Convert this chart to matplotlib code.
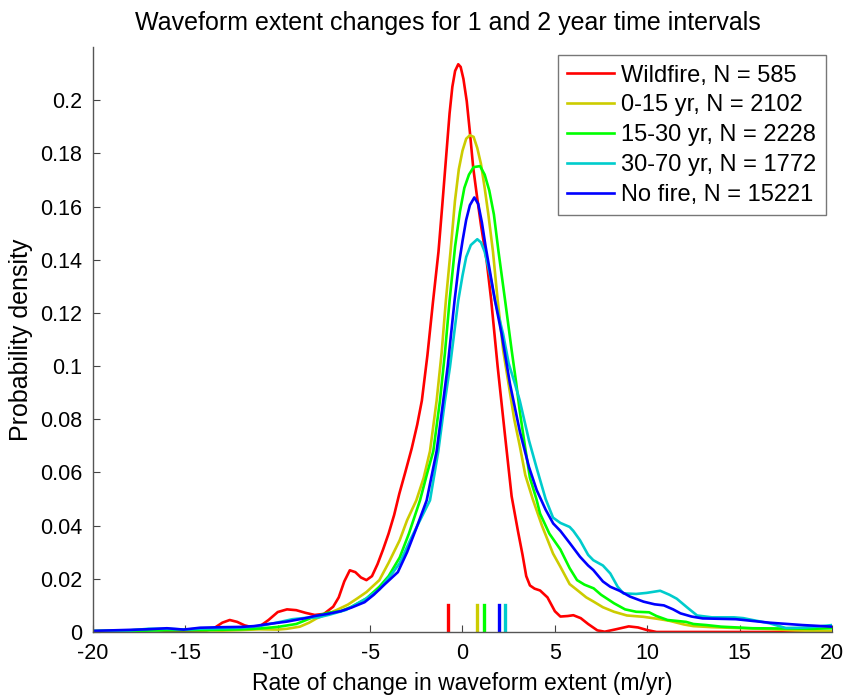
#Waveform extent change densities

import numpy as np
import matplotlib
matplotlib.use('Agg')
import matplotlib.pyplot as plt

#Density curves (x in m/yr, y in probability density).

wild_x = [-20, -18, -17, -16, -15, -14, -13.5, -13, -12.6, -12.2, -11.8, -11.4, -11, -10.5, -10, -9.5, -9,
          -8.5, -8, -7.5, -7, -6.7, -6.4, -6.1, -5.8, -5.5, -5.2, -4.9, -4.6, -4.3, -4.0, -3.7, -3.42, -3.1,
          -2.75, -2.45, -2.2, -1.9, -1.6, -1.3, -1.1, -0.86, -0.7, -0.55, -0.4, -0.23, -0.1, 0.05, 0.23, 0.4,
          0.58, 0.8, 1.0, 1.3, 1.55, 1.9, 2.3, 2.66, 3.0, 3.25, 3.45, 3.65, 3.9, 4.2, 4.6, 5.0, 5.3, 5.7, 6.0,
          6.4, 6.8, 7.3, 7.7, 8.3, 9.0, 9.5, 10.0, 10.5, 12, 14, 16, 18, 20]
wild_y = [0.0002, 0.0003, 0.001, 0.0004, 0.0002, 0.0002, 0.0012, 0.0035, 0.0045, 0.0038, 0.0025, 0.0018, 0.002,
          0.0045, 0.0075, 0.0085, 0.0082, 0.0072, 0.0064, 0.0068, 0.0095, 0.013, 0.019, 0.0232, 0.0225, 0.0205,
          0.0195, 0.021, 0.0255, 0.031, 0.037, 0.044, 0.052, 0.060, 0.069, 0.078, 0.087, 0.104, 0.124, 0.143,
          0.160, 0.181, 0.195, 0.205, 0.211, 0.2135, 0.2125, 0.208, 0.1996, 0.188, 0.1746, 0.163, 0.153, 0.140,
          0.125, 0.100, 0.074, 0.051, 0.038, 0.029, 0.021, 0.0175, 0.0163, 0.0156, 0.013, 0.0078, 0.0058,
          0.006, 0.0063, 0.0052, 0.003, 0.0006, 0.0001, 0.001, 0.0021, 0.0017, 0.0007, 0.0, 0, 0, 0, 0, 0]

y015_x = [-20, -18, -17, -16, -15, -14, -13, -12, -11, -10, -9.5, -8.8, -8.3, -7.9, -7.3, -6.8, -6.2, -5.7,
          -5.2, -4.5, -4.0, -3.4, -3.0, -2.5, -2.1, -1.76, -1.4, -1.13, -0.9, -0.65, -0.41, -0.2, 0.0, 0.2, 0.4,
          0.6, 0.8, 1.0, 1.2, 1.4, 1.65, 1.9, 2.2, 2.5, 2.8, 3.1, 3.4, 3.8, 4.3, 4.9, 5.3, 5.8, 6.2, 6.7, 7.1,
          7.6, 8.2, 8.9, 9.8, 10.5, 11.2, 12.0, 12.5, 13.5, 14.8, 16.6, 18, 19.4, 20]
y015_y = [0.0004, 0.0006, 0.0009, 0.001, 0.0008, 0.0006, 0.0005, 0.0007, 0.001, 0.0009, 0.0012, 0.002, 0.0035,
          0.0051, 0.0068, 0.0083, 0.0103, 0.0126, 0.015, 0.0195, 0.026, 0.0345, 0.042, 0.0495, 0.058, 0.068,
          0.087, 0.105, 0.1246, 0.143, 0.162, 0.174, 0.181, 0.1855, 0.1868, 0.1862, 0.182, 0.176, 0.167, 0.157,
          0.143, 0.125, 0.106, 0.093, 0.080, 0.070, 0.059, 0.050, 0.040, 0.0295, 0.0245, 0.018, 0.0158, 0.013,
          0.0114, 0.0093, 0.0076, 0.0062, 0.0057, 0.005, 0.0042, 0.0028, 0.0022, 0.0018, 0.0015, 0.0011, 0.0006,
          0.0003, 0.0003]

y1530_x = [-20, -18, -16, -14, -12, -11, -10, -9, -8, -7.3, -6.6, -6.0, -5.2, -4.5, -4.0, -3.4, -2.9, -2.3,
           -1.9, -1.58, -1.22, -0.95, -0.7, -0.4, -0.14, 0.1, 0.35, 0.6, 0.95, 1.2, 1.45, 1.7, 1.95, 2.3, 2.66,
           2.9, 3.1, 3.4, 3.65, 4.0, 4.2, 4.7, 5.3, 5.8, 6.2, 6.6, 7.1, 7.5, 8.2, 8.8, 9.4, 10.1, 10.5, 11.1,
           12.1, 12.5, 13.2, 14, 15.7, 17.5, 19, 20]
y1530_y = [0.0003, 0.0004, 0.0006, 0.0007, 0.001, 0.0013, 0.0019, 0.003, 0.0058, 0.0072, 0.0078, 0.0095,
           0.0126, 0.017, 0.021, 0.028, 0.037, 0.0495, 0.060, 0.068, 0.087, 0.105, 0.1246, 0.145, 0.158, 0.167,
           0.172, 0.1748, 0.1752, 0.172, 0.166, 0.157, 0.143, 0.125, 0.106, 0.094, 0.083, 0.069, 0.058, 0.050,
           0.0445, 0.037, 0.031, 0.024, 0.0195, 0.0178, 0.0164, 0.014, 0.0108, 0.0085, 0.0076, 0.0074, 0.006,
           0.0045, 0.0038, 0.003, 0.0026, 0.002, 0.0014, 0.0013, 0.0012, 0.0014]

y3070_x = [-20, -18, -17, -16, -15, -14, -13, -12, -11, -10, -9.2, -8.5, -7.8, -7.2, -6.3, -5.2, -4.5, -3.8,
           -3.4, -2.8, -2.3, -1.76, -1.31, -0.95, -0.68, -0.23, 0.0, 0.2, 0.45, 0.8, 1.0, 1.2, 1.5, 1.76, 2.2,
           2.5, 2.84, 3.1, 3.6, 4.0, 4.5, 4.9, 5.3, 5.8, 6.0, 6.36, 6.8, 7.08, 7.6, 8.0, 8.4, 8.71, 9.4, 9.97,
           10.7, 11.2, 11.6, 12.2, 12.7, 13.5, 14.7, 15.2, 15.7, 16.6, 17.5, 18.4, 19.2, 20]
y3070_y = [0.0004, 0.0006, 0.0012, 0.0012, 0.0009, 0.0013, 0.0014, 0.0016, 0.0022, 0.0036, 0.0048, 0.0053,
           0.0055, 0.0065, 0.0083, 0.0126, 0.016, 0.022, 0.0259, 0.035, 0.042, 0.0495, 0.068, 0.087, 0.0996,
           0.1246, 0.134, 0.141, 0.1455, 0.1477, 0.1465, 0.143, 0.134, 0.1246, 0.112, 0.101, 0.0933, 0.087,
           0.072, 0.062, 0.050, 0.043, 0.041, 0.0395, 0.038, 0.0345, 0.029, 0.027, 0.025, 0.022, 0.017, 0.0145,
           0.0143, 0.0147, 0.0155, 0.014, 0.0125, 0.009, 0.0062, 0.0055, 0.0055, 0.0052, 0.0045, 0.0033, 0.0015,
           0.0016, 0.002, 0.0026]

nofire_x = [-20, -19, -18, -17.1, -16, -15.1, -14.2, -13, -12, -11.3, -10.5, -9.5, -8.5, -8.0, -7.3, -6.6,
            -6.0, -5.3, -4.8, -4.2, -3.5, -3.0, -2.5, -1.94, -1.4, -1.04, -0.8, -0.43, -0.2, 0.0, 0.2, 0.4,
            0.64, 0.85, 1.05, 1.25, 1.45, 1.76, 2.12, 2.57, 3.11, 3.6, 4.02, 4.5, 4.91, 5.3, 5.82, 6.36, 6.8,
            7.08, 7.6, 8.0, 8.5, 9.07, 9.8, 10.4, 10.9, 11.4, 11.8, 12.4, 13.0, 14.8, 16.6, 18.4, 20]
nofire_y = [0.0004, 0.0006, 0.0008, 0.001, 0.0014, 0.0009, 0.0016, 0.0018, 0.0019, 0.0022, 0.003, 0.0039,
            0.0052, 0.006, 0.0068, 0.0078, 0.0092, 0.0112, 0.014, 0.018, 0.0225, 0.030, 0.039, 0.0495, 0.068,
            0.087, 0.100, 0.1246, 0.138, 0.147, 0.155, 0.1605, 0.1634, 0.161, 0.154, 0.145, 0.137, 0.1246,
            0.112, 0.0933, 0.0752, 0.062, 0.0533, 0.046, 0.0408, 0.038, 0.0333, 0.0283, 0.025, 0.0233, 0.019,
            0.017, 0.0155, 0.0133, 0.0114, 0.0104, 0.010, 0.0085, 0.007, 0.0058, 0.0051, 0.0048, 0.0035, 0.0026,
            0.002]

#Group means shown as short ticks on the x axis (same order as labels).
mean_vals = [-0.77, 0.80, 1.15, 2.32, 1.96]

labels = ['Wildfire, N = 585', '0-15 yr, N = 2102', '15-30 yr, N = 2228',
          '30-70 yr, N = 1772', 'No fire, N = 15221']
colors = ['#ff0000', '#cccc00', '#00ff00', '#00cccc', '#0000ff']

yticks = [0, 0.02, 0.04, 0.06, 0.08, 0.1, 0.12, 0.14, 0.16, 0.18, 0.2]
ytick_labels = ['0', '0.02', '0.04', '0.06', '0.08', '0.1', '0.12', '0.14', '0.16', '0.18', '0.2']
xticks = [-20, -15, -10, -5, 0, 5, 10, 15, 20]

plt.rcParams['font.family'] = ['Liberation Sans', 'DejaVu Sans']

fig = plt.figure(figsize=(8.48, 6.97), dpi=100)
ax = fig.add_axes([0.1097, 0.0933, 0.8714, 0.8393])

curves = [(wild_x, wild_y), (y015_x, y015_y), (y1530_x, y1530_y), (y3070_x, y3070_y), (nofire_x, nofire_y)]
for (cx, cy), c, lab in zip(curves, colors, labels):
    ax.plot(cx, cy, color=c, linewidth=1.9, label=lab, solid_joinstyle='round')

#Mean markers
for m, c in zip(mean_vals, colors):
    ax.plot([m, m], [0, 0.01], color=c, linewidth=2.4)

ax.set_xlim(-20, 20)
ax.set_ylim(0, 0.22)
ax.set_xticks(xticks)
ax.set_xticklabels([str(t) for t in xticks])
ax.set_yticks(yticks)
ax.set_yticklabels(ytick_labels)
ax.tick_params(direction='in', length=5, colors='#444444', labelcolor='black', labelsize=15.5)
ax.tick_params(axis='x', pad=8)
ax.tick_params(axis='y', pad=8)

for s in ['top', 'right']:
    ax.spines[s].set_visible(False)
for s in ['left', 'bottom']:
    ax.spines[s].set_color('#555555')
    ax.spines[s].set_linewidth(1.0)

ax.set_title('Waveform extent changes for 1 and 2 year time intervals', fontsize=18, pad=12, x=0.48)
ax.set_xlabel('Rate of change in waveform extent (m/yr)', fontsize=16.5, labelpad=6)
ax.set_ylabel('Probability density', fontsize=18, labelpad=5)

leg = ax.legend(loc='upper right', bbox_to_anchor=(0.992, 0.986), borderaxespad=0, fontsize=17,
                frameon=True, fancybox=False, handlelength=2.0, handletextpad=0.3,
                labelspacing=0.33, borderpad=0.4)
leg.get_frame().set_edgecolor('#555555')
leg.get_frame().set_linewidth(1.0)

plt.savefig('out.png', dpi=100)
